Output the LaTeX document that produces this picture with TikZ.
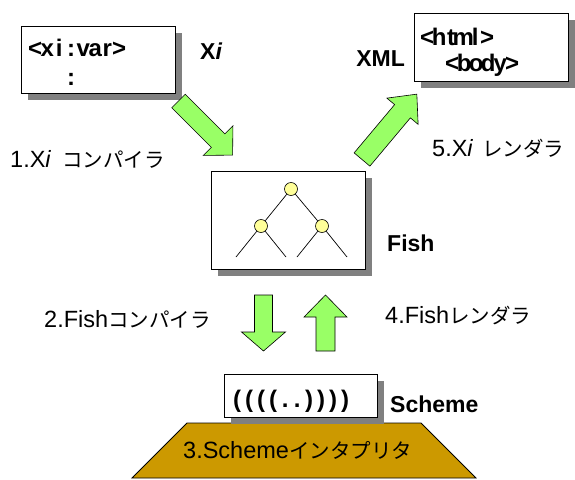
\documentclass[tikz,border=0pt]{standalone}
\usepackage{fontspec}
\setmainfont{Liberation Sans}
\newfontfamily\jp{Noto Sans CJK JP}
\usetikzlibrary{shadows}

\definecolor{arrowgreen}{HTML}{99FF66}
\definecolor{nodeyellow}{HTML}{FFFF99}
\definecolor{interpgold}{HTML}{CC9900}
\definecolor{shadowgray}{HTML}{808080}

\def\mycellsA#1{\ifx#1\relax\else\makebox[12pt]{#1}\expandafter\mycellsA\fi}
\def\mycells#1{\mycellsA#1\relax}
\newcommand\jpsize{\jp\fontsize{20.5}{22}\selectfont}

\tikzset{
  codebox/.style={draw=black, line width=0.8pt, fill=white, inner sep=0pt,
    drop shadow={shadow xshift=7pt, shadow yshift=-7pt, fill=shadowgray, opacity=1}},
  codetext/.style={font=\fontsize{24}{26}\selectfont\bfseries, inner sep=0pt, anchor=base west},
  plainlabel/.style={font=\fontsize{23.5}{25}\selectfont, inner sep=0pt, anchor=base west},
  boldlabel/.style={font=\fontsize{23}{25}\selectfont\bfseries, inner sep=0pt, anchor=base west},
  treenode/.style={circle, draw=black, line width=0.6pt, fill=nodeyellow, minimum size=13pt, inner sep=0pt},
  treeline/.style={line width=0.7pt},
  blockarrow/.style={draw=black, line width=0.6pt, fill=arrowgreen, line join=miter},
  pics/barrow/.style args={#1/#2/#3/#4}{code={
    \draw[blockarrow] (0,-#2) -- (#1,-#2) -- (#1,-#3) -- ({#1+#4},0) -- (#1,#3) -- (#1,#2) -- (0,#2) -- cycle;}}
}

\begin{document}
\begin{tikzpicture}[x=1pt,y=-1pt]
\useasboundingbox (0,0) rectangle (575,479);

% Xi source box
\node[codebox, minimum width=154pt, minimum height=67pt] (xibox) at (98,59.5) {};
\node[codetext] (xil1) at (29,56) {\mycells{<xi:var>}};
\node[codetext] (xil2) at (29,85) {\hspace{36pt}\mycells{:}};
\node[boldlabel] (xilab) at (200,59) {X\textit{i}};

% XML box
\node[codebox, minimum width=154pt, minimum height=68pt] (xmlbox) at (491,47) {};
\node[codetext] (xml1) at (421,45) {\mycells{<html>}};
\node[codetext] (xml2) at (446,71) {\mycells{<body>}};
\node[boldlabel, anchor=base east] (xmllab) at (405,66) {XML};

% Fish box with tree
\node[codebox, minimum width=154pt, minimum height=98pt] (fishbox) at (288,220) {};
\node[boldlabel] (fishlab) at (387,251) {Fish};
\node[treenode] (root) at (291,189) {};
\node[treenode] (lc) at (261,226) {};
\node[treenode] (rc) at (322,226) {};
\coordinate (ll1) at (236,257);
\coordinate (ll2) at (286,257);
\coordinate (rl1) at (297,257);
\coordinate (rl2) at (347,257);
\draw[treeline] (root) -- (lc);
\draw[treeline] (root) -- (rc);
\draw[treeline] (lc) -- (ll1);
\draw[treeline] (lc) -- (ll2);
\draw[treeline] (rc) -- (rl1);
\draw[treeline] (rc) -- (rl2);

% Scheme interpreter
\draw[draw=black, line width=0.8pt, fill=interpgold] (187,423) -- (421,423) -- (476,478) -- (132,478) -- cycle;
\node[plainlabel] (interp) at (183,458) {3.Scheme{\jpsize インタプリタ}};

% Scheme box
\node[codebox, minimum width=153pt, minimum height=43pt] (schemebox) at (300.5,395.5) {};
\node[codetext] (schemetext) at (231,407) {\mycells{((((..))))}};
\node[boldlabel] (schemelab) at (390,412) {Scheme};

% arrows
\pic[rotate=-45] at (178.5,101) {barrow=56/9.5/21/20.5};
\pic[rotate=50] at (362,159.5) {barrow=63/10.3/20.4/22.3};
\pic[rotate=-90] at (263.5,295) {barrow=37/9/22/19};
\pic[rotate=90] at (325.5,351) {barrow=34/9.5/21.5/22};

% arrow labels
\node[plainlabel] (lab1) at (10,167) {1.X\textit{i}\hspace{11pt}{\jpsize コンパイラ}};
\node[plainlabel] (lab5) at (432,156) {5.X\textit{i}\hspace{9pt}{\jpsize レンダラ}};
\node[plainlabel] (lab2) at (44,327) {2.Fish{\jpsize コンパイラ}};
\node[plainlabel] (lab4) at (385,323) {4.Fish{\jpsize レンダラ}};
\end{tikzpicture}
\end{document}
